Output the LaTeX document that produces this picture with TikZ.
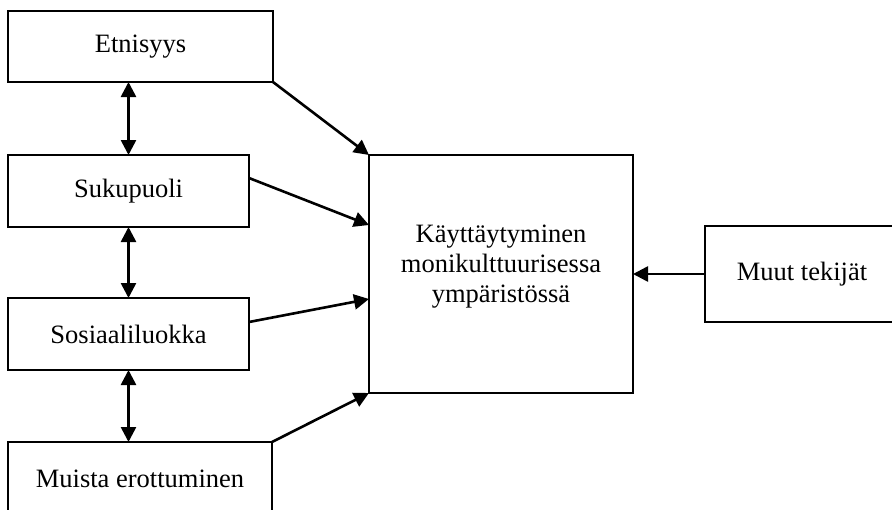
\documentclass[tikz,border=0pt]{standalone}
\usepackage{fontspec}
\setmainfont{Liberation Serif}
\usetikzlibrary{arrows.meta}
\tikzset{
  box/.style={draw, line width=1.8pt, rectangle, inner sep=0pt, outer sep=0pt, align=center,
              font=\fontsize{26.5}{30}\selectfont},
  conn/.style={line width=2.6pt, -{Triangle[width=15pt,length=15pt]}},
  both/.style={line width=2.6pt, {Triangle[width=15pt,length=15pt]}-{Triangle[width=15pt,length=15pt]}},
  lbl/.style={inner sep=0pt, align=center, font=\fontsize{26.5}{30}\selectfont}
}
\begin{document}
\begin{tikzpicture}[x=1pt, y=-1pt]
\clip (0,0) rectangle (892,509);
\useasboundingbox (0,0) rectangle (892,509);
\fill[white] (0,0) rectangle (892,509);

\node[box, minimum width=265pt, minimum height=71pt] (etn) at (140.5,46.5) {Etnisyys};
\node[box, minimum width=241pt, minimum height=72pt] (suk) at (128.5,191) {Sukupuoli};
\node[box, minimum width=241pt, minimum height=72pt] (sos) at (128.5,334) {Sosiaaliluokka};
\node[box, minimum width=264pt, minimum height=74pt] (mui) at (140,479) {Muista erottuminen};
\node[box, minimum width=264pt, minimum height=238pt] (kay) at (501,274) {};
\node[lbl] (kaytxt) at (501,267) {Käyttäytyminen\\monikulttuurisessa\\ympäristössä};
\node[box, minimum width=194pt, minimum height=96pt] (muut) at (802,274) {Muut tekijät};

\draw[both] (etn.south -| suk.north) -- (suk.north);
\draw[both] (suk.south) -- (sos.north);
\draw[both] (sos.south) -- (sos.south |- mui.north);

\draw[conn] (etn.south east) -- (kay.north west);
\draw[conn] ([yshift=13pt]suk.east) -- ([yshift=49pt]kay.west);
\draw[conn] ([yshift=12pt]sos.east) -- ([yshift=-25pt]kay.west);
\draw[conn] (mui.north east) -- (kay.south west);
\draw[conn] (muut.west) -- (kay.east);
\end{tikzpicture}
\end{document}
